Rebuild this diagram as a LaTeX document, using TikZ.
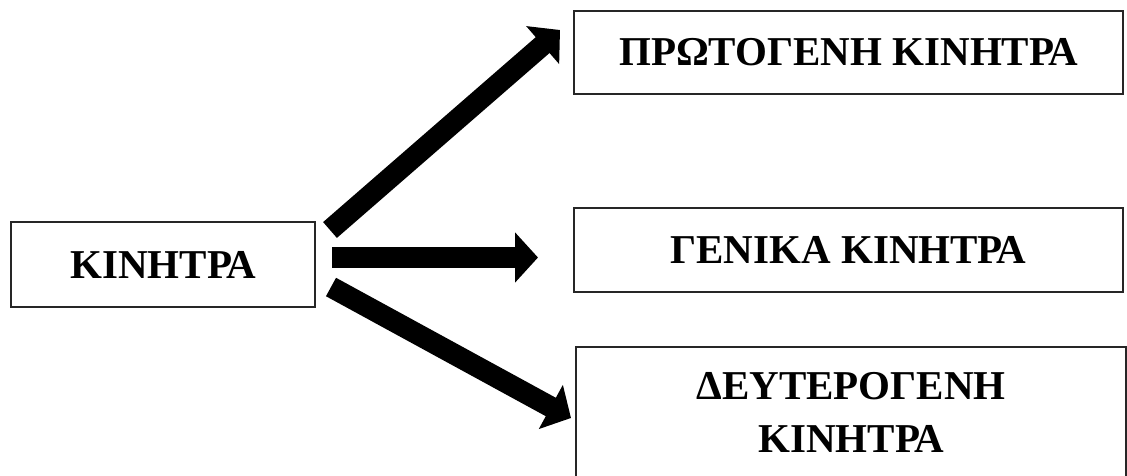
\documentclass[tikz,border=0pt]{standalone}
\usepackage{fontspec}
\setmainfont{Liberation Serif}
\usetikzlibrary{arrows.meta}
\begin{document}
\begin{tikzpicture}[x=1pt,y=-1pt,
  box/.style={draw=black!85,line width=1.6pt,inner sep=0pt,font=\fontsize{41}{53}\selectfont\bfseries,align=center},
  bigarrow/.style={line width=21pt,-{Triangle[length=23pt,width=49pt]}}]
\useasboundingbox (0,0) rectangle (1127,476);
\node[box,minimum width=304pt,minimum height=85pt] (k) at (163,264.5) {ΚΙΝΗΤΡΑ};
\node[box,minimum width=549pt,minimum height=83pt] (p) at (848.5,52.5) {ΠΡΩΤΟΓΕΝΗ ΚΙΝΗΤΡΑ};
\node[box,minimum width=549pt,minimum height=84pt] (g) at (848.5,250) {ΓΕΝΙΚΑ ΚΙΝΗΤΡΑ};
\node[box,minimum width=550pt,minimum height=130pt] (d) at (851,412) {ΔΕΥΤΕΡΟΓΕΝΗ\\ΚΙΝΗΤΡΑ};
\coordinate (s1) at (330,230);
\coordinate (e1) at (560,30);
\coordinate (s2) at (332,257.5);
\coordinate (e2) at (538,257.5);
\coordinate (s3) at (331,287);
\coordinate (e3) at (571,418);
\draw[bigarrow] (s1) -- (e1);
\draw[bigarrow] (s2) -- (e2);
\draw[bigarrow] (s3) -- (e3);
\end{tikzpicture}
\end{document}
